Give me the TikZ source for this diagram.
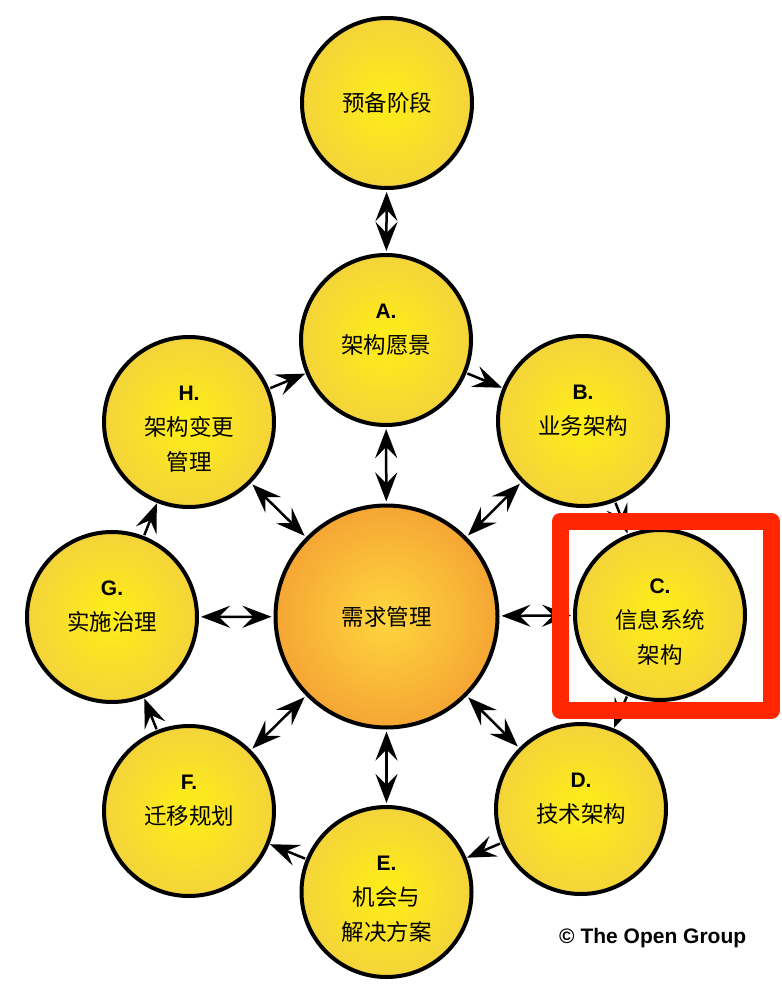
\documentclass[tikz,border=0pt]{standalone}
\usepackage{fontspec}
\setmainfont{Liberation Sans}
\newfontfamily\cjk{Noto Sans CJK SC}
\usetikzlibrary{arrows.meta}
\definecolor{ycen}{RGB}{255,238,22}
\definecolor{yedge}{RGB}{244,212,58}
\definecolor{ocen}{RGB}{255,214,62}
\definecolor{oedge}{RGB}{245,166,52}
\definecolor{hired}{RGB}{255,38,0}
\newcommand{\lt}[1]{{\fontsize{21}{35}\selectfont\bfseries #1}}
\newcommand{\ct}[1]{{\cjk\fontsize{22.5}{35}\selectfont #1}}
\begin{document}
\begin{tikzpicture}[x=1pt,y=-1pt,
  phase/.style={circle, draw=black, line width=4pt, minimum size=170pt, inner sep=0pt,
    inner color=ycen, outer color=yedge},
  hub/.style={circle, draw=black, line width=4pt, minimum size=222pt, inner sep=0pt,
    inner color=ocen, outer color=oedge},
  txt/.style={align=center, inner sep=0pt, anchor=north, font=\fontsize{22}{35}\selectfont},
  dbl/.style={line width=2.5pt, {Stealth[length=29pt, width=22pt, inset=11pt]}-{Stealth[length=29pt, width=22pt, inset=11pt]}, shorten <=2pt, shorten >=2pt},
  sgl/.style={line width=2.5pt, -{Stealth[length=29pt, width=22pt, inset=11pt]}, shorten <=1pt, shorten >=0.5pt}
]
\useasboundingbox (0,0) rectangle (781,984);

\node[phase] (P) at (387,103) {};
\node[hub]   (M) at (386.5,616.5) {};
\node[phase] (A) at (386,340) {};
\node[phase] (B) at (583,421) {};
\node[phase] (C) at (660,615) {};
\node[phase] (D) at (581,809) {};
\node[phase] (E) at (386.5,892) {};
\node[phase] (F) at (189,811) {};
\node[phase] (G) at (112,617) {};
\node[phase] (H) at (189,422) {};

\node[align=center, inner sep=0pt] (Pt) at (P.center) {\ct{预备阶段}};
\node[align=center, inner sep=0pt] (Mt) at (M.center) {\ct{需求管理}};
\node[txt] (At) at ([yshift=36pt]A.center) {\lt{A.}\\\ct{架构愿景}};
\node[txt] (Bt) at ([yshift=36pt]B.center) {\lt{B.}\\\ct{业务架构}};
\node[txt] (Ct) at ([yshift=36pt]C.center) {\lt{C.}\\\ct{信息系统}\\\ct{架构}};
\node[txt] (Dt) at ([yshift=36pt]D.center) {\lt{D.}\\\ct{技术架构}};
\node[txt] (Et) at ([yshift=36pt]E.center) {\lt{E.}\\\ct{机会与}\\\ct{解决方案}};
\node[txt] (Ft) at ([yshift=36pt]F.center) {\lt{F.}\\\ct{迁移规划}};
\node[txt] (Gt) at ([yshift=36pt]G.center) {\lt{G.}\\\ct{实施治理}};
\node[txt] (Ht) at ([yshift=36pt]H.center) {\lt{H.}\\\ct{架构变更}\\\ct{管理}};

\draw[dbl] (P) -- (A);
\foreach \n in {A,B,C,D,E,F,G,H} { \draw[dbl] (M) -- (\n); }
\draw[sgl] (A) -- (B);
\draw[sgl] (B) -- (C);
\draw[sgl] (C) -- (D);
\draw[sgl] (D) -- (E);
\draw[sgl] (E) -- (F);
\draw[sgl] (F) -- (G);
\draw[sgl] (G) -- (H);
\draw[sgl] (H) -- (A);

\draw[hired, line width=17pt, line join=round] (560,521.5) rectangle (771.5,710);

\node[anchor=base west, inner sep=0pt, font=\fontsize{21}{25}\selectfont\bfseries] (cr) at (559,943) {© The Open Group};
\end{tikzpicture}
\end{document}
